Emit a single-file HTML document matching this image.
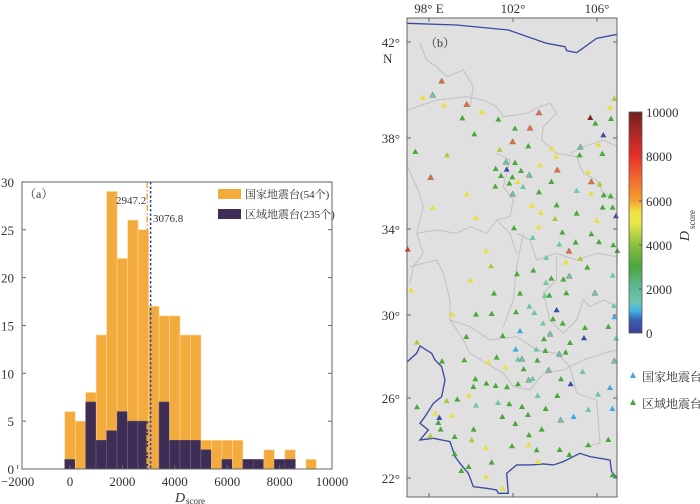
<!DOCTYPE html>
<html><head><meta charset="utf-8"><style>
body{margin:0;background:#fff;width:700px;height:504px;overflow:hidden}
svg{display:block}
text{font-family:"Liberation Serif","Noto Serif CJK SC",serif;fill:#333}
</style></head><body>
<svg id="s" width="700" height="504" viewBox="0 0 700 504">
<defs>
<linearGradient id="cb" x1="0" y1="1" x2="0" y2="0">
<stop offset="0" stop-color="#3a3f95"/><stop offset="0.06" stop-color="#3a60b0"/><stop offset="0.1" stop-color="#40b4e8"/>
<stop offset="0.14" stop-color="#6cc6b0"/><stop offset="0.22" stop-color="#5cb48a"/><stop offset="0.3" stop-color="#4aa83a"/>
<stop offset="0.4" stop-color="#8cc040"/><stop offset="0.5" stop-color="#e8e848"/><stop offset="0.55" stop-color="#f0e040"/>
<stop offset="0.6" stop-color="#f5a030"/><stop offset="0.7" stop-color="#f06a30"/><stop offset="0.8" stop-color="#e83028"/>
<stop offset="0.9" stop-color="#b02828"/><stop offset="1" stop-color="#702020"/>
</linearGradient>
</defs>
<g id="hist"></g>
<g id="map"></g>
</svg>
<script>
const NS="http://www.w3.org/2000/svg";
function el(p,t,a,txt){const e=document.createElementNS(NS,t);for(const k in a)e.setAttribute(k,a[k]);if(txt!=null)e.textContent=txt;p.appendChild(e);return e;}
const H=document.getElementById('hist');
const X=v=>70+v*0.0262, Y=c=>469-c*9.57;
const tot=[6,5,8,14,29,22,26,25,17,16,16,14,14,3,3,3,3,1,1,2,1,2,0,1];
const dk=[1,0,7,3,4,6,5,5,0,7,3,3,3,2,0,1,0,1,1,0,1,1,0,0];
for(let i=0;i<24;i++){const x0=X(-200+400*i),w=X(200+400*i)-x0;
 if(tot[i]>dk[i])el(H,'rect',{x:x0,y:Y(tot[i]),width:w,height:Y(0)-Y(tot[i]),fill:'#f2ab3c',stroke:'#fbd9a0','stroke-width':0.6});
 if(dk[i])el(H,'rect',{x:x0,y:Y(dk[i]),width:w,height:Y(0)-Y(dk[i]),fill:'#3e2e55',stroke:'#5a4a70','stroke-width':0.6});}
el(H,'line',{x1:X(2947),x2:X(2947),y1:182,y2:469,stroke:'#f2ab3c','stroke-width':1.5,'stroke-dasharray':'6,2,1.5,2'});
el(H,'line',{x1:X(3077),x2:X(3077),y1:182,y2:469,stroke:'#3040b0','stroke-width':1.5,'stroke-dasharray':'2.5,2'});
el(H,'rect',{x:22,y:182,width:310,height:287,fill:'none',stroke:'#666','stroke-width':1});
for(let c=0;c<=30;c+=5){el(H,'line',{x1:22,x2:26,y1:Y(c),y2:Y(c),stroke:'#666'});el(H,'line',{x1:328,x2:332,y1:Y(c),y2:Y(c),stroke:'#666'});
 el(H,'text',{x:14,y:Y(c)+5,'font-size':13,'text-anchor':'end'},c);}
for(let v=-2000;v<=10000;v+=2000){const x=X(v);el(H,'line',{x1:x,x2:x,y1:469,y2:465,stroke:'#666'});
 el(H,'text',{x:x,y:486,'font-size':13,'text-anchor':'middle'},v<0?'\u22122000':v);}
el(H,'text',{x:180,y:502,'font-size':14,'font-style':'italic','text-anchor':'middle'},'D');
el(H,'text',{x:186,y:504,'font-size':9},'score');
el(H,'text',{x:24,y:198,'font-size':12},'（a）');
el(H,'text',{x:116,y:204,'font-size':11},'2947.2');
el(H,'text',{x:153,y:222,'font-size':11},'3076.8');
el(H,'rect',{x:218,y:189,width:23,height:10,fill:'#f2ab3c'});
el(H,'text',{x:245,y:198,'font-size':11},'国家地震台(54个)');
el(H,'rect',{x:218,y:209,width:23,height:10,fill:'#3e2e55'});
el(H,'text',{x:245,y:218,'font-size':11},'区域地震台(235个)');
// map
const M=document.getElementById('map');
el(M,'rect',{x:407,y:18,width:210,height:479,fill:'#e0e0e0'});
const g=el(M,'g',{transform:'translate(370,0) scale(0.3333)'});
const gray=[[[112,330],[200,300],[290,290],[340,300],[380,320],[400,350],[470,340],[510,320],[540,310],[560,340],[520,380],[515,420],[560,460],[620,470],[640,520],[680,540],[700,580],[742,600]],
[[150,130],[170,180],[200,200],[230,230],[280,210],[310,260],[300,320]],
[[112,500],[140,560],[160,620],[140,700],[160,760],[130,800],[120,850]],
[[380,460],[420,480],[400,560],[430,600],[420,650],[380,660],[350,700],[300,680],[260,700],[200,690],[140,700]],
[[120,800],[200,780],[220,820],[240,900],[240,960],[280,1020],[300,1060],[350,1090],[400,1120],[430,1160],[480,1170],[520,1120],[580,1110],[640,1080],[700,1060],[742,1050]],
[[440,700],[480,720],[500,780],[560,760],[620,780],[680,760],[742,770]],
[[560,770],[560,840],[520,880],[540,960],[580,1000],[620,960],[640,900],[660,920],[700,900],[742,920]],
[[380,660],[420,700],[440,760]],[[240,960],[300,980],[360,1020],[440,1010],[500,1050],[560,1060],[600,1100],[620,1180],[680,1200],[690,1330],[640,1340]],
[[600,460],[640,440],[700,420],[742,440]],[[460,700],[440,800],[430,900],[400,980]]];
gray.forEach(p=>el(g,'polyline',{points:p.join(' '),fill:'none',stroke:'#c0c0c0','stroke-width':3}));
const blue=[[[112,70],[260,75],[415,90],[530,130],[585,140],[590,152],[620,158],[680,115],[742,103]],
[[112,1085],[140,1060],[150,1038],[185,1060],[195,1080],[215,1100],[225,1140],[215,1190],[190,1210],[165,1250],[150,1270],[175,1290],[150,1320],[190,1315],[240,1325],[255,1370],[270,1390],[295,1420],[310,1460],[350,1465],[380,1470],[385,1480],[415,1480],[410,1420],[440,1395],[480,1395],[520,1392],[550,1395],[580,1385],[630,1360],[660,1370],[720,1380],[725,1415],[742,1435]]];
blue.forEach(p=>el(g,'polyline',{points:p.join(' '),fill:'none',stroke:'#3a4aa0','stroke-width':4}));
const C={o:'#f06a30',y:'#e8e040',t:'#6cc6a8',g:'#4aa83a',yg:'#a8cc40',r:'#e03028',dr:'#802020',b:'#3a4aa8',lb:'#40a8e0'};
const pts=`215,243,o 158,293,y 188,285,t 222,315,y 290,313,o 335,336,y 277,354,g 385,358,g 507,338,o 733,296,yg 720,322,y 661,353,dr 676,370,g 723,356,g 435,385,g 480,384,o 313,402,g 700,405,b 136,455,g 231,465,yg 428,425,o 475,438,g 389,449,yg 545,446,y 631,441,t 685,434,y 697,461,g 559,469,y 629,465,g 408,486,t 435,488,g 510,495,y 377,506,g 410,508,b 453,512,g 562,510,o 182,532,o 393,527,g 427,531,g 478,525,t 443,545,y 544,545,g 655,516,y 664,545,o 689,552,yg 376,559,g 418,550,g 459,560,t 290,583,y 428,582,t 507,576,g 620,572,t 663,580,y 701,585,g 722,588,g 188,623,y 485,617,y 560,615,g 513,638,y 620,640,g 698,622,g 728,622,g 738,648,b 317,653,y 555,656,yg 681,662,y 506,681,y 432,684,g 577,697,g 488,713,t 664,702,g 617,727,g 687,726,g 730,735,g 568,733,t 113,748,r 348,753,y 597,753,o 742,752,g 529,773,t 588,787,y 631,776,yg 363,798,yg 490,811,g 652,802,g 441,822,g 544,835,g 580,838,g 598,828,t 528,848,t 728,826,t 302,841,y 123,870,y 372,880,g 450,880,g 589,879,g 675,879,t 525,887,t 538,886,g 246,943,y 318,943,g 365,941,g 438,936,g 478,919,t 493,938,t 560,930,b 732,917,t 733,951,lb 519,970,t 549,957,g 578,970,g 645,983,g 715,980,g 450,993,lb 398,1007,g 540,1002,t 522,1017,g 642,1014,b 738,1015,t 141,1027,yg 289,1010,g 437,1048,lb 499,1048,t 526,1052,g 600,1028,g 380,1072,g 444,1078,t 456,1077,t 502,1081,g 568,1062,t 587,1057,g 216,1084,g 283,1080,g 355,1086,y 406,1101,y 461,1107,g 536,1110,t 638,1115,t 733,1083,t 316,1137,g 488,1136,t 476,1140,t 349,1150,g 377,1157,g 444,1152,g 573,1137,g 602,1152,b 310,1160,g 411,1161,g 720,1163,lb 297,1186,y 230,1202,yg 262,1198,g 318,1216,t 384,1208,t 418,1212,g 456,1220,g 503,1187,t 562,1187,g 684,1183,t 141,1221,g 527,1226,g 655,1229,t 727,1226,lb 196,1240,y 247,1246,y 397,1250,g 474,1244,g 611,1250,lb 572,1260,t 208,1253,b 205,1268,g 212,1288,g 436,1271,g 311,1288,g 515,1288,g 181,1308,yg 254,1310,g 477,1305,g 305,1320,yg 715,1319,g 347,1343,y 426,1338,g 475,1334,y 500,1350,g 569,1349,g 655,1335,g 254,1362,g 598,1364,g 365,1387,g 504,1385,y 296,1400,g 274,1412,g 348,1430,y 728,1425,g 398,1465,y`;
pts.split(' ').forEach(s=>{const [x,y,c]=s.split(',');const X0=+x,Y0=+y;
 el(g,'polygon',{points:`${X0},${Y0-9} ${X0-9},${Y0+7} ${X0+9},${Y0+7}`,fill:C[c],stroke:(c=='o'||c=='t'&&Y0%3==0)?'#777':'none','stroke-width':1.5});});
el(M,'rect',{x:407,y:18,width:210,height:479,fill:'none',stroke:'#666','stroke-width':1});
[[98,429,'98° E'],[102,513,'102°'],[106,597,'106°']].forEach(([v,x,t])=>{el(M,'line',{x1:x,x2:x,y1:18,y2:22,stroke:'#666'});el(M,'line',{x1:x,x2:x,y1:497,y2:493,stroke:'#666'});el(M,'text',{x:x,y:13,'font-size':13,'text-anchor':'middle'},t);});
[[42,42],[38,138],[34,229],[30,315],[26,398],[22,478]].forEach(([v,y])=>{el(M,'line',{x1:407,x2:411,y1:y,y2:y,stroke:'#666'});el(M,'line',{x1:617,x2:613,y1:y,y2:y,stroke:'#666'});el(M,'text',{x:400,y:y+5,'font-size':13,'text-anchor':'end'},v+'°');});
el(M,'text',{x:383,y:63,'font-size':13},'N');
el(M,'text',{x:425,y:47,'font-size':12},'（b）');
el(M,'rect',{x:629,y:112,width:13,height:221,fill:'url(#cb)',stroke:'#555','stroke-width':0.8});
[[10000,112],[8000,156],[6000,201],[4000,245],[2000,289],[0,333]].forEach(([v,y])=>{el(M,'line',{x1:639,x2:642,y1:y,y2:y,stroke:'#555'});el(M,'text',{x:646,y:y+5,'font-size':13},v);});
el(M,'text',{x:0,y:0,transform:'translate(689,236) rotate(-90)','font-size':14,'font-style':'italic','text-anchor':'middle'},'D');
el(M,'text',{x:0,y:0,transform:'translate(695,229) rotate(-90)','font-size':9},'score');
el(M,'polygon',{points:'633,372 630,378 636,378',fill:'#40a8e0'});
el(M,'text',{x:642,y:381,'font-size':12},'国家地震台');
el(M,'polygon',{points:'633,399 630,405 636,405',fill:'#4aa83a'});
el(M,'text',{x:642,y:408,'font-size':12},'区域地震台');
</script>
</body></html>
